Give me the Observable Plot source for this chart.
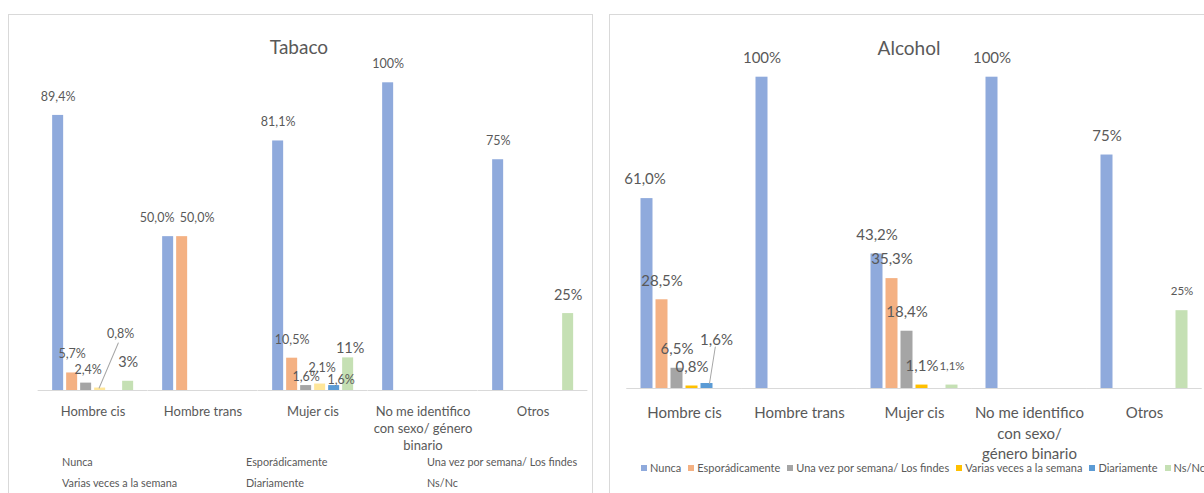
<!DOCTYPE html>
<html><head><meta charset="utf-8">
<script src="https://cdn.jsdelivr.net/npm/d3@7"></script>
<script src="https://cdn.jsdelivr.net/npm/@observablehq/plot@0.6"></script>
<style>
body{margin:0;background:#fff;}
#root{position:relative;width:1204px;height:493px;overflow:hidden;background:#fff;font-family:Lato,sans-serif;color:#595959;}
.frame{position:absolute;border:1px solid #d9d9d9;box-sizing:border-box;}
.title{position:absolute;transform:translate(-50%,-50%);white-space:nowrap;font-size:19px;color:#595959;}
.svgwrap{position:absolute;}
.svgwrap svg{display:block;max-width:none;}
.legL{position:absolute;display:grid;grid-template-columns:184px 181px auto;row-gap:6px;font-size:10.8px;line-height:15px;white-space:nowrap;}
.legR{position:absolute;display:flex;align-items:center;font-size:11px;line-height:14px;white-space:nowrap;}
.legR .it{display:flex;align-items:center;margin-right:7px;}
.legR .sw{width:6px;height:6px;margin-right:3px;display:inline-block;}
</style></head><body><div id="root"></div>
<script>
// ---------------- data ----------------
const groups = ["Hombre cis", "Hombre trans", "Mujer cis", "No me identifico con sexo/ género binario", "Otros"];
const series = ["Nunca", "Esporádicamente", "Una vez por semana/ Los findes", "Varias veces a la semana", "Diariamente", "Ns/Nc"];

const groupLabelsTabaco = ["Hombre cis", "Hombre trans", "Mujer cis", "No me identifico\ncon sexo/ género\nbinario", "Otros"];
const groupLabelsAlcohol = ["Hombre cis", "Hombre trans", "Mujer cis", "No me identifico\ncon sexo/\ngénero binario", "Otros"];

// Tabaco (% by group)
const tabacoNunca           = [89.4, 50.0, 81.1, 100, 75];
const tabacoEsporadicamente = [5.7, 50.0, 10.5, 0, 0];
const tabacoUnaVezSemana    = [2.4, 0, 1.6, 0, 0];
const tabacoVariasVeces     = [0.8, 0, 2.1, 0, 0];
const tabacoDiariamente     = [0, 0, 1.6, 0, 0];
const tabacoNsNc            = [3, 0, 10.6, 0, 25];
const tabacoLabels = [
  ["89,4%", "50,0%", "81,1%", "100%", "75%"],
  ["5,7%", "50,0%", "10,5%", "", ""],
  ["2,4%", "", "1,6%", "", ""],
  ["0,8%", "", "2,1%", "", ""],
  ["", "", "1,6%", "", ""],
  ["3%", "", "11%", "", "25%"]
];

// Alcohol (% by group)
const alcoholNunca           = [61.0, 100, 43.2, 100, 75];
const alcoholEsporadicamente = [28.5, 0, 35.3, 0, 0];
const alcoholUnaVezSemana    = [6.5, 0, 18.4, 0, 0];
const alcoholVariasVeces     = [0.8, 0, 1.1, 0, 0];
const alcoholDiariamente     = [1.6, 0, 0, 0, 0];
const alcoholNsNc            = [0, 0, 1.1, 0, 25];
const alcoholLabels = [
  ["61,0%", "100%", "43,2%", "100%", "75%"],
  ["28,5%", "", "35,3%", "", ""],
  ["6,5%", "", "18,4%", "", ""],
  ["0,8%", "", "1,1%", "", ""],
  ["1,6%", "", "", "", ""],
  ["", "", "1,1%", "", "25%"]
];

// ---------------- styles ----------------
const colorsTabaco  = ["#8faadc", "#f4b183", "#a5a5a5", "#ffe699", "#5b9bd5", "#c5e0b4"];
const colorsAlcohol = ["#8faadc", "#f4b183", "#a5a5a5", "#ffc000", "#5b9bd5", "#c5e0b4"];

const leaderShape = {draw(context, l) { context.moveTo(0, 0); context.lineTo(0, -l); }};

const root = document.getElementById("root");
function el(tag, cls, style, text) {
  const e = document.createElement(tag);
  if (cls) e.className = cls;
  if (style) Object.assign(e.style, style);
  if (text != null) e.textContent = text;
  root.appendChild(e);
  return e;
}

function buildPanel(cfg) {
  const rows = [];
  cfg.values.forEach((arr, si) => arr.forEach((v, gi) => {
    if (v > 0) rows.push({group: groups[gi], series: series[si], value: v, label: cfg.labels[si][gi]});
  }));
  const rangeW = cfg.width - cfg.marginLeft - cfg.marginRight;
  const step = rangeW / groups.length;
  const halfGap = step * cfg.fxPad / 2;
  const find = (list, r) => list.find(n => groups[n.g] === r.group && series[n.s] === r.series);

  const textMarks = rows.filter(r => r.label).map(r => {
    const n = find(cfg.nudges, r) || {};
    return Plot.text([r], {
      fx: "group", x: "series", y: "value", text: "label",
      dx: n.dx ?? 0, dy: n.dy ?? cfg.labelDy,
      fontSize: r.series === "Ns/Nc" ? cfg.nsSize : cfg.labelSize
    });
  });
  const leaderMarks = cfg.leaders.map(l => {
    const r = rows.find(d => d.group === groups[l.g] && d.series === series[l.s]);
    return Plot.vector([r], {
      fx: "group", x: "series", y: "value", length: l.length, rotate: l.rotate,
      anchor: "start", shape: leaderShape, stroke: "#a6a6a6", strokeWidth: 1, dx: l.dx ?? 0
    });
  });

  const plot = Plot.plot({
    width: cfg.width, height: cfg.height,
    marginLeft: cfg.marginLeft, marginRight: cfg.marginRight,
    marginTop: cfg.marginTop, marginBottom: cfg.marginBottom,
    fx: {domain: groups, paddingInner: cfg.fxPad, paddingOuter: cfg.fxPad / 2, label: null},
    x: {domain: series, paddingInner: cfg.xPad, paddingOuter: cfg.xPad / 2, axis: null},
    y: {domain: [0, 100], axis: null},
    color: {domain: series, range: cfg.colors},
    style: {fontFamily: "Lato, sans-serif", color: "#595959", background: "transparent", overflow: "visible"},
    marks: [
      Plot.barY(rows, {fx: "group", x: "series", y: "value", fill: "series"}),
      Plot.ruleY([0], {stroke: "#d9d9d9", strokeWidth: 1.2, insetLeft: -halfGap, insetRight: -halfGap}),
      ...leaderMarks,
      ...textMarks,
      Plot.axisFx({
        anchor: "bottom", tickSize: 0, tickPadding: cfg.tickPadding, label: null,
        fontSize: cfg.catSize, lineHeight: cfg.catLineHeight,
        tickFormat: g => cfg.groupLabels[groups.indexOf(g)]
      })
    ]
  });
  const wrap = el("div", "svgwrap", {left: cfg.left + "px", top: cfg.top + "px", width: cfg.width + "px"});
  wrap.appendChild(plot);
}

// ---------------- Tabaco panel ----------------
el("div", "frame", {left: "8px", top: "14px", width: "585px", height: "500px"});
buildPanel({
  values: [tabacoNunca, tabacoEsporadicamente, tabacoUnaVezSemana, tabacoVariasVeces, tabacoDiariamente, tabacoNsNc],
  labels: tabacoLabels, colors: colorsTabaco, groupLabels: groupLabelsTabaco,
  left: 8, top: 30, width: 584, height: 430,
  marginLeft: 28.85, marginRight: 3.65, marginTop: 52.3, marginBottom: 70,
  fxPad: 0.206, xPad: 0.25,
  labelSize: 12.5, nsSize: 14.5, labelDy: -18.5,
  catSize: 13, catLineHeight: 1.31, tickPadding: 13.5,
  nudges: [
    {g: 0, s: 2, dx: 2, dy: -13},
    {g: 0, s: 3, dx: 20.5, dy: -54.5},
    {g: 1, s: 0, dx: -11},
    {g: 1, s: 1, dx: 15},
    {g: 2, s: 2, dy: -9},
    {g: 2, s: 3, dx: 2, dy: -16.5},
    {g: 2, s: 4, dx: 7, dy: -6},
    {g: 2, s: 5, dx: 2, dy: -10}
  ],
  leaders: [{g: 0, s: 3, length: 49, rotate: 23, dx: -1}]
});
el("div", "title", {left: "299px", top: "46px"}, "Tabaco");
const legL = el("div", "legL", {left: "62px", top: "454px"});
series.forEach(s => { const sp = document.createElement("span"); sp.textContent = s; legL.appendChild(sp); });

// ---------------- Alcohol panel ----------------
el("div", "frame", {left: "609px", top: "14px", width: "620px", height: "500px"});
buildPanel({
  values: [alcoholNunca, alcoholEsporadicamente, alcoholUnaVezSemana, alcoholVariasVeces, alcoholDiariamente, alcoholNsNc],
  labels: alcoholLabels, colors: colorsAlcohol, groupLabels: groupLabelsAlcohol,
  left: 609, top: 30, width: 595, height: 430,
  marginLeft: 17.5, marginRight: 2.5, marginTop: 46.7, marginBottom: 72,
  fxPad: 0.204, xPad: 0.22,
  labelSize: 15, nsSize: 11.5, labelDy: -19,
  catSize: 15, catLineHeight: 1.37, tickPadding: 15,
  nudges: [
    {g: 0, s: 0, dx: -2},
    {g: 0, s: 4, dx: 9.5, dy: -43}
  ],
  leaders: [{g: 0, s: 4, length: 37, rotate: 9, dx: 2.5}]
});
el("div", "title", {left: "909px", top: "47px"}, "Alcohol");
const legR = el("div", "legR", {left: "641px", top: "461px"});
series.forEach((s, i) => {
  const it = document.createElement("span"); it.className = "it";
  const sw = document.createElement("span"); sw.className = "sw"; sw.style.background = colorsAlcohol[i];
  const tx = document.createElement("span"); tx.textContent = s;
  it.appendChild(sw); it.appendChild(tx); legR.appendChild(it);
});
</script>
</body></html>
